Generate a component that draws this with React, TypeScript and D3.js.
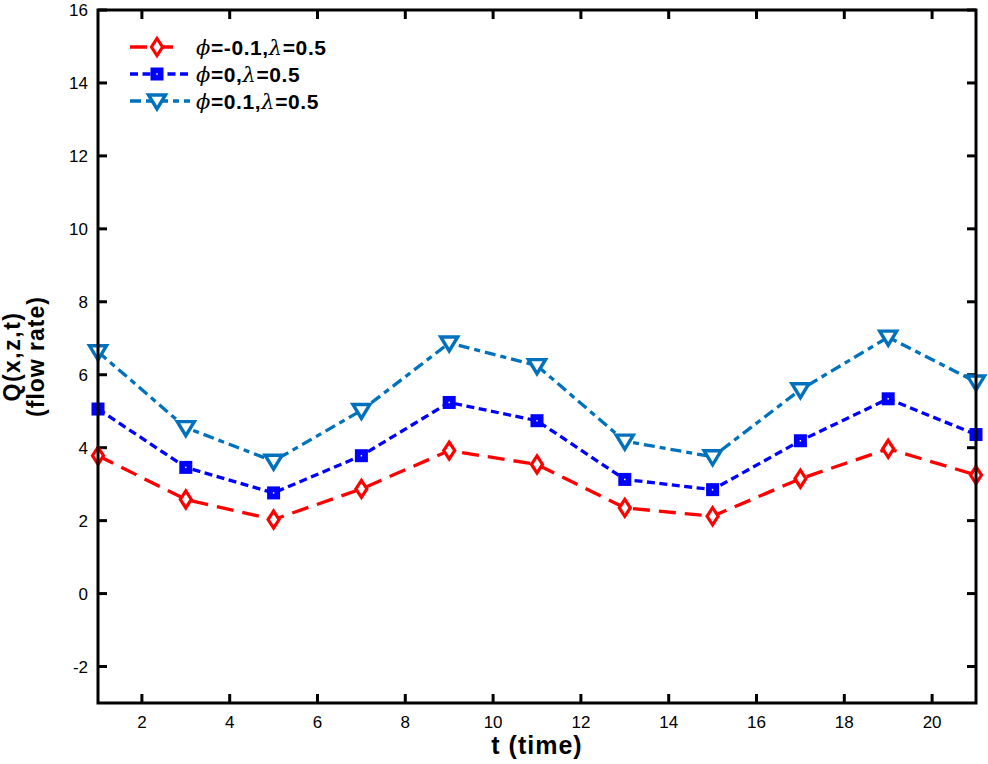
import React from "react";
import * as d3 from "d3";

const tValues = [1, 3, 5, 7, 9, 11, 13, 15, 17, 19, 21];
const seriesNeg = [3.78, 2.58, 2.03, 2.87, 3.92, 3.54, 2.35, 2.12, 3.15, 3.97, 3.25];
const seriesZero = [5.06, 3.46, 2.76, 3.78, 5.24, 4.74, 3.13, 2.85, 4.19, 5.34, 4.36];
const seriesPos = [6.63, 4.55, 3.63, 5.02, 6.87, 6.25, 4.18, 3.75, 5.59, 7.03, 5.8];
const xTicks = [2, 4, 6, 8, 10, 12, 14, 16, 18, 20];
const yTicks = [-2, 0, 2, 4, 6, 8, 10, 12, 14, 16];
const legendPhi = ["-0.1", "0", "0.1"];
const legendLambda = ["0.5", "0.5", "0.5"];

const W = 988;
const H = 764;
const L = 98, R = 976, T = 10, B = 703;
const font = "'Liberation Sans', Arial, Helvetica, sans-serif";
const serif = "'DejaVu Serif', 'Liberation Serif', serif";

type Series = { values: number[]; color: string; dash: string; marker: "diamond" | "square" | "tri" };
const series: Series[] = [
  { values: seriesNeg, color: "#ff0000", dash: "17,9", marker: "diamond" },
  { values: seriesZero, color: "#0000ff", dash: "8,4.5", marker: "square" },
  { values: seriesPos, color: "#0072bd", dash: "11,5,6,5", marker: "tri" },
];

function Marker({ kind, x, y, color }: { kind: string; x: number; y: number; color: string }) {
  if (kind === "diamond") {
    return (
      <path
        d={`M${x},${y - 8.5}L${x + 5.5},${y}L${x},${y + 8.5}L${x - 5.5},${y}Z`}
        fill="white"
        stroke={color}
        strokeWidth={3.2}
      />
    );
  }
  if (kind === "square") {
    return (
      <g>
        <rect x={x - 6.5} y={y - 6.5} width={13} height={13} fill={color} />
        <rect x={x - 0.75} y={y - 0.75} width={1.5} height={1.5} fill="white" />
      </g>
    );
  }
  return (
    <path
      d={`M${x - 8.5},${y - 6}L${x + 8.5},${y - 6}L${x},${y + 8}Z`}
      fill="white"
      stroke={color}
      strokeWidth={3.4}
      strokeLinejoin="miter"
    />
  );
}

export default function App() {
  const x = d3.scaleLinear().domain([1, 21]).range([L, R]);
  const y = d3.scaleLinear().domain([-3, 16]).range([B, T]);
  const line = d3
    .line<number>()
    .x((_, i) => x(tValues[i]))
    .y((d) => y(d));

  return (
    <svg
      width={W}
      height={H}
      style={{ position: "absolute", left: 0, top: 0, background: "white" }}
      fontFamily={font}
    >
      <rect x={0} y={0} width={W} height={H} fill="white" />
      {xTicks.map((t) => (
        <g key={"xt" + t}>
          <line x1={x(t)} x2={x(t)} y1={B} y2={B - 9} stroke="black" strokeWidth={3} />
          <line x1={x(t)} x2={x(t)} y1={T} y2={T + 9} stroke="black" strokeWidth={3} />
          <text x={x(t)} y={728} textAnchor="middle" fontSize={17} fill="black">
            {t}
          </text>
        </g>
      ))}
      {yTicks.map((t) => (
        <g key={"yt" + t}>
          <line x1={L} x2={L + 9} y1={y(t)} y2={y(t)} stroke="black" strokeWidth={3} />
          <line x1={R} x2={R - 9} y1={y(t)} y2={y(t)} stroke="black" strokeWidth={3} />
          <text x={88} y={y(t) + 6} textAnchor="end" fontSize={17} fill="black">
            {t}
          </text>
        </g>
      ))}
      {series.map((s, si) => (
        <g key={"s" + si}>
          <path d={line(s.values) || ""} fill="none" stroke={s.color} strokeWidth={3.3} strokeDasharray={s.dash} />
          {s.values.map((v, i) => (
            <Marker key={i} kind={s.marker} x={x(tValues[i])} y={y(v)} color={s.color} />
          ))}
        </g>
      ))}
      <rect x={L} y={T} width={R - L} height={B - T} fill="none" stroke="black" strokeWidth={3} />
      {series.map((s, si) => {
        const ly = 47 + si * 27;
        return (
          <g key={"lg" + si}>
            <line x1={130} x2={si === 0 ? 180 : 190} y1={ly} y2={ly} stroke={s.color} strokeWidth={3.3} strokeDasharray={s.dash} />
            <Marker kind={s.marker} x={157} y={ly} color={s.color} />
            <text x={196} y={ly + 8} fontSize={21} fontWeight="bold" fill="black" letterSpacing={0.6}>
              <tspan fontFamily={serif} fontStyle="italic" fontWeight="normal">ϕ</tspan>
              <tspan>{"=" + legendPhi[si] + ","}</tspan>
              <tspan fontFamily={serif} fontStyle="italic" fontWeight="normal">λ</tspan>
              <tspan>{"=" + legendLambda[si]}</tspan>
            </text>
          </g>
        );
      })}
      <text x={(L + R) / 2} y={754} textAnchor="middle" fontSize={25} fontWeight="bold" fill="black" letterSpacing={1}>
        t (time)
      </text>
      <g transform={`translate(0, ${(T + B) / 2}) rotate(-90)`}>
        <text x={0} y={20} textAnchor="middle" fontSize={23} fontWeight="bold" fill="black" letterSpacing={1.5}>
          Q(x,z,t)
        </text>
        <text x={0} y={44} textAnchor="middle" fontSize={23} fontWeight="bold" fill="black" letterSpacing={1}>
          (flow rate)
        </text>
      </g>
    </svg>
  );
}
